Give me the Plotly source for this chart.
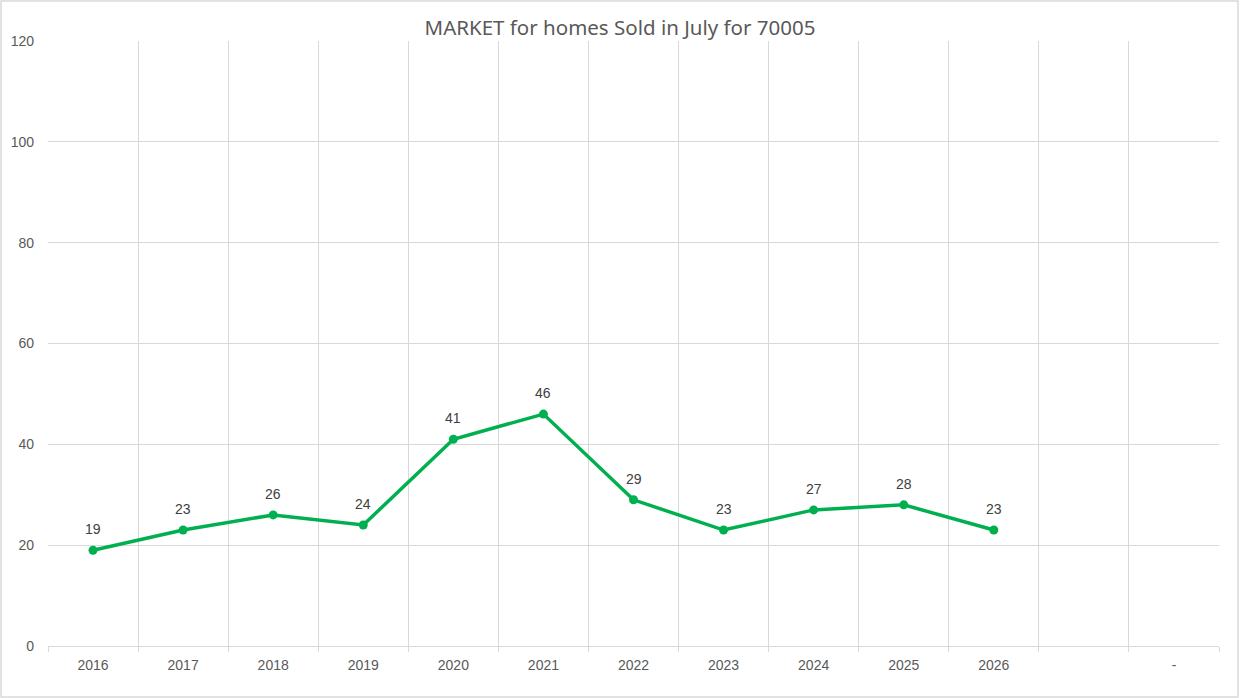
import plotly.graph_objects as go

categories = ["2016", "2017", "2018", "2019", "2020", "2021", "2022", "2023", "2024", "2025", "2026", " ", "-"]
years = ["2016", "2017", "2018", "2019", "2020", "2021", "2022", "2023", "2024", "2025", "2026"]
sold = [19, 23, 26, 24, 41, 46, 29, 23, 27, 28, 23]
y_ticks = [0, 20, 40, 60, 80, 100, 120]

GREEN = "#00b050"
GRID = "#d9d9d9"
FONT = "Liberation Sans, Arial, sans-serif"

fig = go.Figure()
fig.add_trace(go.Scatter(
    x=years, y=sold,
    mode="lines+markers",
    line=dict(color=GREEN, width=3.5),
    marker=dict(color=GREEN, size=9),
    cliponaxis=False,
    showlegend=False,
    hoverinfo="skip",
))

annotations = [
    dict(x=categories.index(yr), y=v, xref="x", yref="y", text=str(v), showarrow=False,
         yshift=21, font=dict(family=FONT, size=14, color="#404040"))
    for yr, v in zip(years, sold)
]

fig.update_layout(
    width=1240, height=698,
    paper_bgcolor="white", plot_bgcolor="white",
    margin=dict(l=48, r=21, t=41, b=52),
    title=dict(
        text="MARKET for homes Sold in July for 70005",
        x=0.5, xanchor="center", y=0.96, yanchor="middle",
        font=dict(family="Noto Sans, Open Sans, sans-serif", size=20.5, color="#595959"),
    ),
    xaxis=dict(
        type="category",
        categoryorder="array", categoryarray=categories,
        tickmode="array", tickvals=categories, ticktext=categories,
        range=[-0.5, len(categories) - 0.5],
        tickson="boundaries",
        showgrid=True, gridcolor=GRID, gridwidth=1,
        showline=True, linecolor=GRID, linewidth=1,
        ticks="outside", ticklen=5, tickcolor=GRID,
        ticklabelstandoff=6,
        tickfont=dict(family=FONT, size=14, color="#595959"),
        zeroline=False, fixedrange=True,
    ),
    yaxis=dict(
        range=[0, 120],
        tickmode="array", tickvals=y_ticks,
        showgrid=True, gridcolor=GRID, gridwidth=1,
        showline=False, zeroline=False,
        ticks="", ticklabelstandoff=13,
        tickfont=dict(family=FONT, size=14, color="#595959"),
        fixedrange=True,
    ),
    annotations=annotations,
    shapes=[dict(
        type="rect", xref="paper", yref="paper",
        x0=(1 - 48) / 1171, x1=(1238 - 48) / 1171,
        y0=(646 - 697) / 605, y1=(646 - 1) / 605,
        line=dict(color=GRID, width=1.5), fillcolor="rgba(0,0,0,0)", layer="below",
    )],
)

fig.write_html(
    "out.html",
    config={"displayModeBar": False, "staticPlot": True},
    post_script="document.body.style.margin='0';document.body.style.overflow='hidden';",
)
